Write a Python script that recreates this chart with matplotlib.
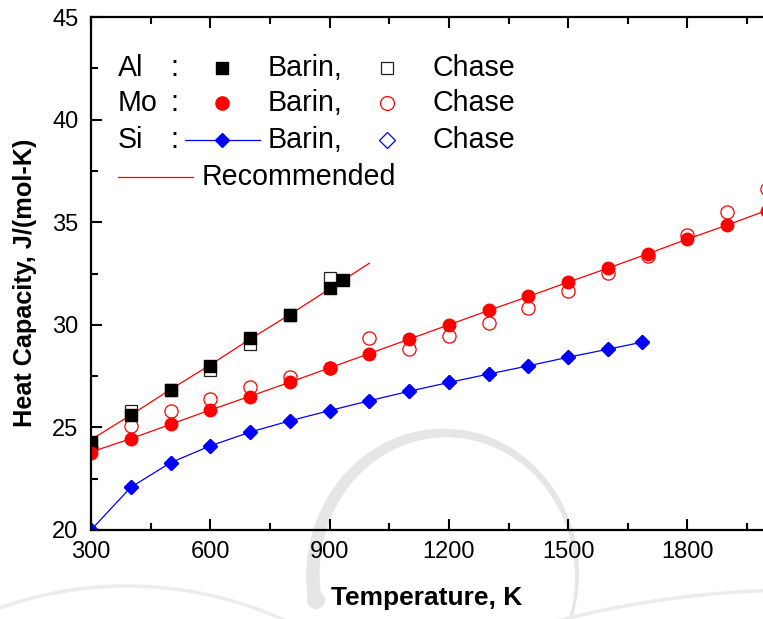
# Heat capacity of Al, Mo and Si vs temperature (Barin / Chase data + recommended curves)
import numpy as np
import matplotlib.pyplot as plt
from matplotlib.lines import Line2D
from matplotlib.patches import Polygon, Circle

plt.rcParams['font.family'] = ['Liberation Sans', 'DejaVu Sans']

# ---- data ----
al_T_barin = [300, 400, 500, 600, 700, 800, 900, 933]
al_cp_barin = [24.3, 25.6, 26.8, 28.0, 29.35, 30.5, 31.8, 32.2]
al_T_chase = [300, 400, 500, 600, 700, 800, 900]
al_cp_chase = [24.2, 25.8, 26.8, 27.8, 29.07, 30.5, 32.3]

mo_T = [300, 400, 500, 600, 700, 800, 900, 1000, 1100, 1200, 1300, 1400,
        1500, 1600, 1700, 1800, 1900, 2000]
mo_cp_barin = [23.75, 24.45, 25.15, 25.85, 26.5, 27.2, 27.9, 28.6, 29.32, 30.0,
               30.7, 31.38, 32.08, 32.76, 33.46, 34.18, 34.84, 35.53]
mo_cp_chase = [24.0, 25.05, 25.8, 26.4, 26.95, 27.45, 27.9, 29.35, 28.83, 29.46,
               30.11, 30.81, 31.63, 32.52, 33.37, 34.39, 35.48, 36.6]

si_T = [300, 400, 500, 600, 700, 800, 900, 1000, 1100, 1200, 1300, 1400,
        1500, 1600, 1685]
si_cp_barin = [20.0, 22.08, 23.28, 24.1, 24.77, 25.32, 25.82, 26.3, 26.76, 27.19,
               27.6, 28.0, 28.42, 28.81, 29.15]
si_cp_chase = si_cp_barin  # hidden under the Barin symbols

# recommended curves
al_T_rec = [300, 400, 500, 600, 700, 800, 900, 1000]
al_cp_rec = [24.4, 25.6, 26.85, 28.05, 29.3, 30.5, 31.75, 33.0]
mo_T_rec = mo_T
mo_cp_rec = [23.8, 24.45, 25.15, 25.85, 26.52, 27.2, 27.9, 28.6, 29.3, 30.0,
             30.7, 31.38, 32.08, 32.76, 33.46, 34.18, 34.86, 35.58]

W, H = 763, 619
fig = plt.figure(figsize=(W / 100, H / 100), dpi=100)

# faint watermark behind the plot (pixel coordinates, y down)
wm = fig.add_axes([0, 0, 1, 1], zorder=0)
wm.set_xlim(0, W)
wm.set_ylim(H, 0)
wm.axis('off')
gray = '#e6e6e6'
t = np.radians(np.linspace(190, -18, 200))
wdt = np.linspace(14, 3, 200)
outer = np.column_stack([445 + (132 + wdt / 2) * np.cos(t), 575 - (142 + wdt / 2) * np.sin(t)])
inner = np.column_stack([445 + (132 - wdt / 2) * np.cos(t), 575 - (142 - wdt / 2) * np.sin(t)])
wm.add_patch(Polygon(np.vstack([outer, inner[::-1]]), closed=True, fc=gray, ec='none'))
wm.add_patch(Circle((316, 600), 9, fc=gray, ec='none'))
a = np.radians(np.linspace(110, 63, 100))
wm.plot(127 + 380 * np.cos(a), 966 - 380 * np.sin(a), color='#ececec', lw=2.5)
a = np.radians(np.linspace(104.4, 92.2, 100))
wm.plot(800 + 968 * np.cos(a), 1558 - 968 * np.sin(a), color='#ececec', lw=2.5)

ax = fig.add_axes([91 / W, 89 / H, 676 / W, 513 / H], zorder=1)
ax.set_facecolor('none')

red = '#ff0000'
blue = '#0000ff'

# open symbols (Chase) first, filled (Barin) on top
ax.plot(al_T_chase, al_cp_chase, ls='none', marker='s', ms=8, mfc='none', mec='#222222', mew=0.9)
ax.plot(mo_T, mo_cp_chase, ls='none', marker='o', ms=9.5, mfc='none', mec=red, mew=0.9)
ax.plot(si_T, si_cp_chase, ls='none', marker='D', ms=7, mfc='none', mec=blue, mew=0.9)

ax.plot(al_T_rec, al_cp_rec, color=red, lw=0.9)
ax.plot(mo_T_rec, mo_cp_rec, color=red, lw=0.9)

ax.plot(al_T_barin, al_cp_barin, ls='none', marker='s', ms=8, color='black')
ax.plot(mo_T, mo_cp_barin, ls='none', marker='o', ms=9, color=red)
ax.plot(si_T, si_cp_barin, color=blue, lw=0.9, marker='D', ms=7, mfc=blue, mec=blue)

ax.set_xlim(300, 2000)
ax.set_ylim(20, 45)
ax.set_xticks([300, 600, 900, 1200, 1500, 1800])
ax.set_xticks(np.arange(450, 2000, 300), minor=True)
ax.set_yticks([20, 25, 30, 35, 40, 45])
ax.set_yticks(np.arange(22.5, 45, 5), minor=True)
ax.tick_params(which='both', direction='in', top=True, right=False, width=1.5,
               labelsize=17)
ax.tick_params(which='major', length=8, pad=8)
ax.tick_params(which='minor', length=5)
ax.tick_params(axis='y', pad=9)
for s in ['left', 'bottom', 'top']:
    ax.spines[s].set_linewidth(1.6)
ax.spines['right'].set_visible(False)

fig.text(25 / W, 1 - 283 / H, 'Heat Capacity, J/(mol-K)', rotation=90,
         ha='center', va='center', fontsize=18.2, fontweight='bold')
fig.text(427 / W, 1 - 598 / H, 'Temperature, K', ha='center', va='center',
         fontsize=19, fontweight='bold')

# ---- hand-built legend (pixel positions -> figure fraction) ----
def fx(x):
    return x / W

def fy(y):
    return 1 - y / H

def key(x, y, **kw):
    fig.add_artist(Line2D([fx(x)], [fy(y)], transform=fig.transFigure, ls='none', **kw))

lfs = 20.6
rows = [('Al', 68), ('Mo', 103), ('Si', 140)]
for name, y in rows:
    fig.text(fx(118), fy(y), name, fontsize=lfs, va='center', ha='left')
    fig.text(fx(170), fy(y), ':', fontsize=lfs, va='center', ha='left')
    fig.text(fx(268), fy(y), 'Barin,', fontsize=lfs, va='center', ha='left')
    fig.text(fx(433), fy(y), 'Chase', fontsize=lfs, va='center', ha='left')

key(222, 68, marker='s', ms=8.5, color='black')
key(387, 68, marker='s', ms=8, mfc='none', mec='#222222', mew=0.9)
key(222, 103, marker='o', ms=9.5, color=red)
key(387, 103, marker='o', ms=10, mfc='none', mec=red, mew=0.9)
fig.add_artist(Line2D([fx(185), fx(260)], [fy(140), fy(140)], transform=fig.transFigure,
                      color=blue, lw=0.9))
key(222, 140, marker='D', ms=7.5, color=blue)
key(387, 140, marker='D', ms=8.5, mfc='none', mec=blue, mew=0.9)
fig.add_artist(Line2D([fx(118), fx(193)], [fy(177), fy(177)], transform=fig.transFigure,
                      color=red, lw=0.9))
fig.text(fx(202), fy(177), 'Recommended', fontsize=lfs, va='center', ha='left')

fig.savefig('out.png', dpi=100)
